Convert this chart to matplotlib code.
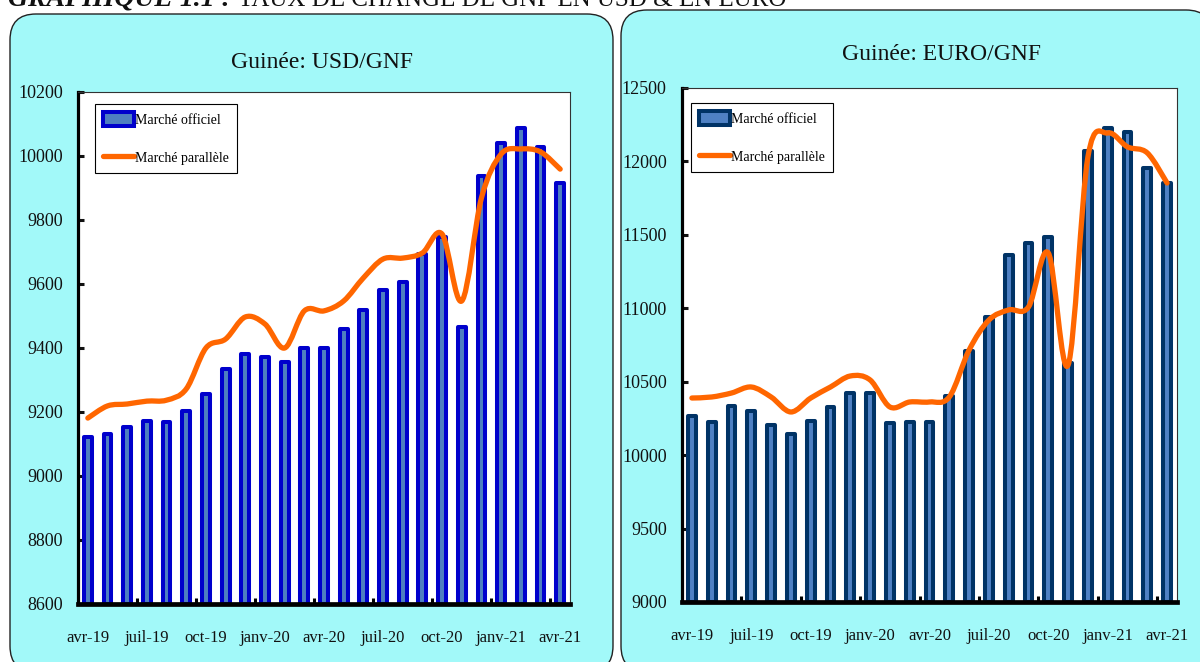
import numpy as np
import matplotlib
matplotlib.use("Agg")
import matplotlib.pyplot as plt
from matplotlib.patches import FancyBboxPatch, Patch, PathPatch
from matplotlib.lines import Line2D
from matplotlib.path import Path
from matplotlib.transforms import IdentityTransform

# monthly data, avr-19 .. avr-21
months = ['avr-19', 'mai-19', 'juin-19', 'juil-19', 'août-19', 'sept-19', 'oct-19',
          'nov-19', 'déc-19', 'janv-20', 'févr-20', 'mars-20', 'avr-20', 'mai-20',
          'juin-20', 'juil-20', 'août-20', 'sept-20', 'oct-20', 'nov-20', 'déc-20',
          'janv-21', 'févr-21', 'mars-21', 'avr-21']

usd_officiel = [9122, 9131, 9153, 9172, 9170, 9203, 9256, 9334, 9381, 9372, 9356, 9400, 9400,
                9459, 9519, 9581, 9606, 9694, 9747, 9466, 9938, 10041, 10087, 10028, 9916]
usd_parallele = [9181, 9219, 9225, 9234, 9237, 9272, 9400, 9428, 9497, 9475, 9400, 9516, 9516,
                 9547, 9619, 9678, 9681, 9697, 9756, 9547, 9869, 10006, 10022, 10013, 9959]

eur_officiel = [10267, 10226, 10335, 10301, 10206, 10144, 10233, 10328, 10423, 10423, 10219,
                10226, 10226, 10403, 10709, 10941, 11363, 11445, 11486, 10628, 12071, 12228,
                12201, 11955, 11853]
eur_parallele = [10389, 10396, 10423, 10464, 10396, 10294, 10389, 10464, 10539, 10512, 10328,
                 10362, 10362, 10396, 10716, 10920, 10989, 11009, 11377, 10614, 12030, 12194,
                 12099, 12058, 11853]

plt.rcParams['font.family'] = ['Liberation Serif', 'DejaVu Serif']

W, H = 1200, 662
fig = plt.figure(figsize=(W / 100, H / 100), dpi=100)
fig.patch.set_facecolor('white')

CYAN = '#A2F9F9'
ORANGE = '#FF6600'


def px_rect(x0, y0, x1, y1):
    # top-left pixel coords -> figure fraction [l, b, w, h]
    return [x0 / W, (H - y1) / H, (x1 - x0) / W, (y1 - y0) / H]


def panel(x0, y0, x1, y1):
    p = FancyBboxPatch((x0, H - y1), x1 - x0, y1 - y0,
                       boxstyle='round,pad=0,rounding_size=26',
                       transform=IdentityTransform(), facecolor=CYAN,
                       edgecolor='#222222', linewidth=1.0, zorder=-10)
    fig.patches.append(p)


def smooth_path(xs, ys):
    pts = np.column_stack([xs, ys]).astype(float)
    n = len(pts)
    verts = [pts[0]]
    codes = [Path.MOVETO]
    for i in range(n - 1):
        p0 = pts[i - 1] if i > 0 else pts[i]
        p1 = pts[i]
        p2 = pts[i + 1]
        p3 = pts[i + 2] if i + 2 < n else pts[i + 1]
        c1 = p1 + (p2 - p0) / 6.0
        c2 = p2 - (p3 - p1) / 6.0
        verts += [c1, c2, p2]
        codes += [Path.CURVE4] * 3
    return Path(verts, codes)


def draw_chart(rect, officiel, parallele, ylim, yticks, edge, inner, title, title_xy,
               legend_xy, minor_ticks):
    ax = fig.add_axes(rect)
    ax.set_facecolor('white')
    x = np.arange(len(months))
    ax.bar(x, np.array(officiel) - ylim[0], bottom=ylim[0], width=0.40,
           facecolor=inner, edgecolor=edge, linewidth=2.9, joinstyle='round', zorder=2)
    ax.add_patch(PathPatch(smooth_path(x, parallele), fill=False, edgecolor=ORANGE,
                           linewidth=3.8, capstyle='round', joinstyle='round', zorder=3))
    ax.set_xlim(-0.5, len(months) - 0.5)
    ax.set_ylim(*ylim)
    ax.set_yticks(yticks)
    ax.set_yticklabels([str(v) for v in yticks], fontsize=13)
    ax.set_xticks(x[::3])
    ax.set_xticklabels(months[::3], fontsize=12)
    ax.set_xticks(minor_ticks, minor=True)
    ax.tick_params(axis='x', which='major', length=0, pad=19, colors='#111111')
    ax.tick_params(axis='x', which='minor', direction='in', length=4, width=2.2, color='black')
    ax.tick_params(axis='y', direction='in', length=4, width=2.2, pad=11, colors='#111111')
    for s in ('top', 'right'):
        ax.spines[s].set_linewidth(0.8)
        ax.spines[s].set_color('#333333')
    ax.spines['left'].set_linewidth(2.3)
    ax.spines['bottom'].set_linewidth(3.4)
    for s in ax.spines.values():
        s.set_zorder(4)

    handles = [Patch(facecolor=inner, edgecolor=edge, linewidth=2.9, joinstyle='round'),
               Line2D([], [], color=ORANGE, linewidth=3.8, solid_capstyle='round')]
    lx = (legend_xy[0] / W - rect[0]) / rect[2]
    ly = ((H - legend_xy[1]) / H - rect[1]) / rect[3]
    leg = ax.legend(handles, ['Marché officiel', 'Marché parallèle'], loc='upper left',
                    bbox_to_anchor=(lx, ly), borderaxespad=0, fontsize=10,
                    fancybox=False, framealpha=1, edgecolor='black', borderpad=0.6,
                    labelspacing=1.7, handlelength=2.2, handleheight=1.1,
                    handletextpad=0.05)
    leg.get_frame().set_linewidth(0.8)
    leg.set_zorder(5)

    fig.text(title_xy[0] / W, 1 - title_xy[1] / H, title, fontsize=17,
             ha='center', va='center', color='#111111')
    return ax


panel(10, 14, 613, 672)
panel(621, 10, 1212, 672)

draw_chart(px_rect(78, 92, 570, 604), usd_officiel, usd_parallele, (8600, 10200),
           list(range(8600, 10201, 200)), '#0000CC', '#4F7FC0',
           'Guinée: USD/GNF', (322, 62), (95, 104), np.arange(2.5, 24, 3))
draw_chart(px_rect(682, 88, 1177, 602), eur_officiel, eur_parallele, (9000, 12500),
           list(range(9000, 12501, 500)), '#003366', '#4F81C4',
           'Guinée: EURO/GNF', (942, 55), (691, 103), np.arange(1, 24, 1.5))

# figure caption, cut by the top edge in the source
fig.text(8 / W, 1 - 6 / H, 'GRAPHIQUE 1.1 :', fontsize=20, fontweight='bold',
         fontstyle='italic', ha='left', va='baseline', color='#111111')
fig.text(238 / W, 1 - 6 / H, 'TAUX DE CHANGE DE GNF EN USD & EN EURO', fontsize=18,
         ha='left', va='baseline', color='#111111')

fig.savefig('out.png', dpi=100)
